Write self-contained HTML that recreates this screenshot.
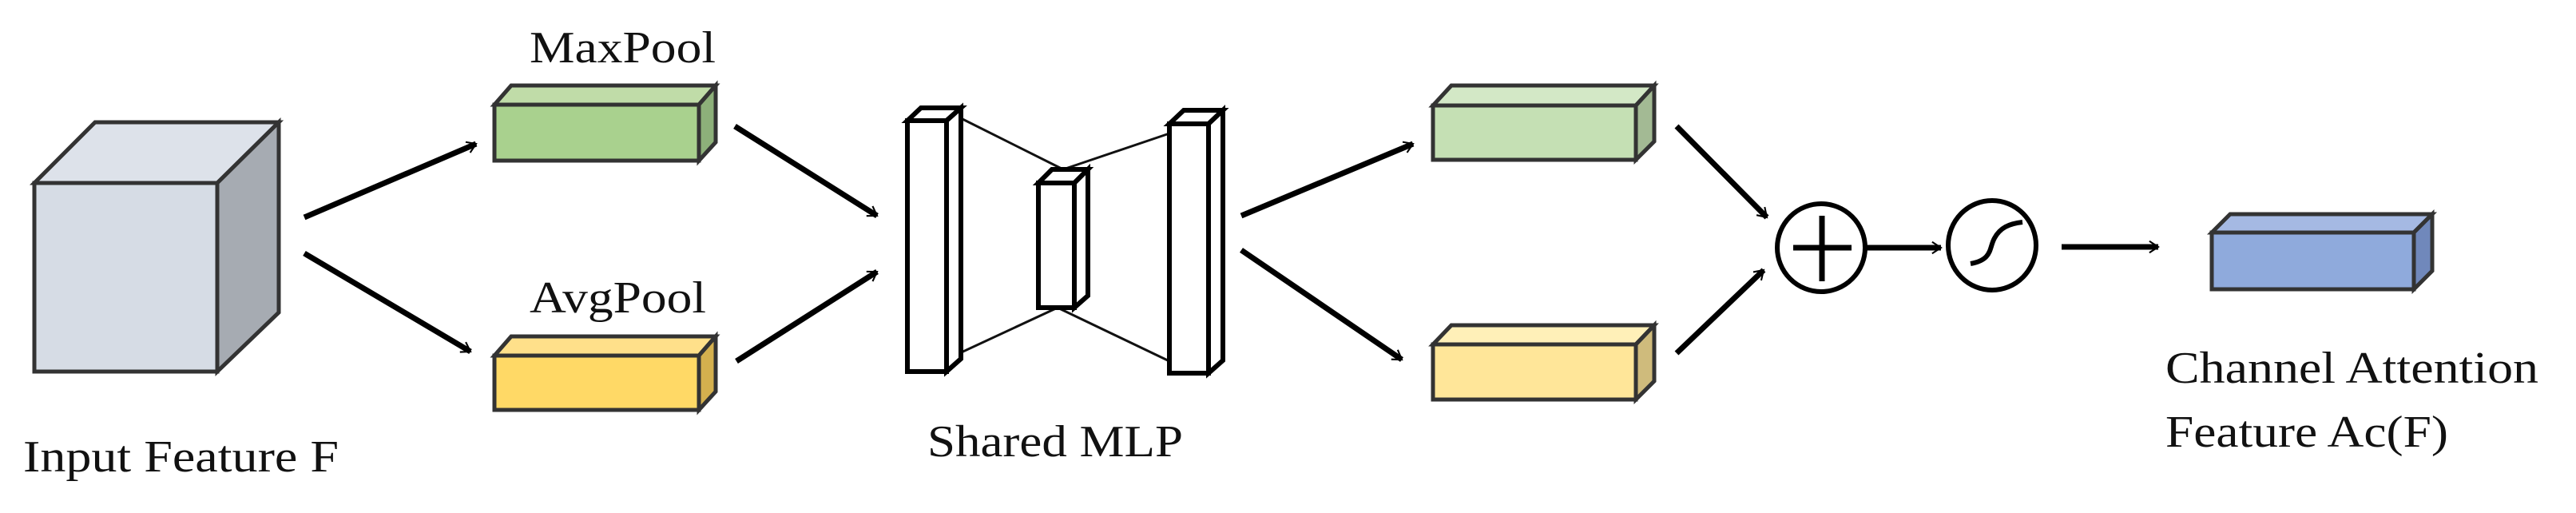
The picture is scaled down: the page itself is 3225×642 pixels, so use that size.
<!DOCTYPE html>
<html><head><meta charset="utf-8"><style>html,body{margin:0;padding:0;background:#fff}svg{display:block}</style></head>
<body>
<svg width="3225" height="642" viewBox="0 0 3225 642" xmlns="http://www.w3.org/2000/svg">
<defs>
<marker id="ah" viewBox="0 0 20 20" refX="17" refY="10" markerWidth="6" markerHeight="6" markerUnits="userSpaceOnUse" orient="auto" overflow="visible">
<path d="M-20,-14 L17,10 L-20,34" fill="none" stroke="#000" stroke-width="7"/>
</marker>
</defs>
<g stroke="#333" stroke-width="5" stroke-linejoin="miter">
<!-- input cube -->
<polygon points="43,229 119,153 349,153 272,229" fill="#dde2ea"/>
<polygon points="272,229 349,153 349,391 272,465" fill="#a6abb2"/>
<rect x="43" y="229" width="229" height="236" fill="#d6dce5"/>
<!-- MaxPool -->
<polygon points="619,131 640,107 896,107 875,131" fill="#c0dca8"/>
<polygon points="875,131 896,107 896,178 875,201" fill="#8db07a"/>
<rect x="619" y="131" width="256" height="70" fill="#a9d18e"/>
<!-- AvgPool -->
<polygon points="619,445 640,421 896,421 875,445" fill="#ffe08a"/>
<polygon points="875,445 896,421 896,490 875,513" fill="#d4b04e"/>
<rect x="619" y="445" width="256" height="68" fill="#ffd966"/>
<!-- green2 -->
<polygon points="1794,132 1817,107 2071,107 2048,132" fill="#d3e8c6"/>
<polygon points="2048,132 2071,107 2071,177 2048,200" fill="#a3ba94"/>
<rect x="1794" y="132" width="254" height="68" fill="#c5e0b4"/>
<!-- yellow2 -->
<polygon points="1794,431 1817,407 2071,407 2048,431" fill="#fff0b8"/>
<polygon points="2048,431 2071,407 2071,477 2048,500" fill="#cfbb7c"/>
<rect x="1794" y="431" width="254" height="69" fill="#ffe699"/>
<!-- blue -->
<polygon points="2769,291 2792,268 3045,268 3022,291" fill="#a5b9e3"/>
<polygon points="3022,291 3045,268 3045,339 3022,362" fill="#7088bb"/>
<rect x="2769" y="291" width="253" height="71" fill="#8faadc"/>
</g>
<!-- MLP -->
<g stroke="#111" stroke-width="3" fill="none">
<line x1="1203" y1="148" x2="1331" y2="212"/>
<line x1="1331" y1="212" x2="1464" y2="167"/>
<line x1="1197" y1="444" x2="1324" y2="385"/>
<line x1="1324" y1="385" x2="1464" y2="452"/>
</g>
<g stroke="#000" stroke-width="6" fill="#fff">
<polygon points="1136,151 1153,135 1203,135 1185,151"/>
<polygon points="1185,151 1203,135 1203,449 1185,465"/>
<rect x="1136" y="151" width="49" height="314"/>
<polygon points="1300,229 1317,212 1362,212 1345,229"/>
<polygon points="1345,229 1362,212 1362,370 1345,385"/>
<rect x="1300" y="229" width="45" height="156"/>
<polygon points="1464,155 1482,138 1531,138 1513,155"/>
<polygon points="1513,155 1531,138 1531,451 1513,467"/>
<rect x="1464" y="155" width="49" height="312"/>
</g>
<!-- arrows -->
<g stroke="#000" stroke-width="7" fill="none" marker-end="url(#ah)">
<line x1="381" y1="272" x2="596" y2="180"/>
<line x1="381" y1="317" x2="589" y2="440"/>
<line x1="920" y1="158" x2="1098" y2="270"/>
<line x1="922" y1="452" x2="1098" y2="340"/>
<line x1="1554" y1="270" x2="1769" y2="180"/>
<line x1="1554" y1="313" x2="1755" y2="450"/>
<line x1="2099" y1="158" x2="2212" y2="272"/>
<line x1="2099" y1="442" x2="2208" y2="338"/>
<line x1="2337" y1="310" x2="2430" y2="310"/>
<line x1="2581" y1="309" x2="2702" y2="309"/>
</g>
<g stroke="#000" fill="none">
<circle cx="2280" cy="310" r="55" stroke-width="6"/>
<line x1="2245" y1="310" x2="2318" y2="310" stroke-width="7"/>
<line x1="2281" y1="270" x2="2281" y2="352" stroke-width="7"/>
<ellipse cx="2494" cy="307" rx="55" ry="56" stroke-width="6"/>
<path d="M2467,330 C2495,325 2490,310 2497,298 C2504,285 2515,280 2532,278" stroke-width="6"/>
</g>
<g font-family="'Liberation Serif', serif" font-size="56" fill="#111">
<text x="663" y="78" textLength="233" lengthAdjust="spacingAndGlyphs">MaxPool</text>
<text x="663" y="391" textLength="221" lengthAdjust="spacingAndGlyphs">AvgPool</text>
<text x="29" y="590" textLength="395" lengthAdjust="spacingAndGlyphs">Input Feature F</text>
<text x="1161" y="571" textLength="320" lengthAdjust="spacingAndGlyphs">Shared MLP</text>
<text x="2711" y="479" textLength="467" lengthAdjust="spacingAndGlyphs">Channel Attention</text>
<text x="2711" y="559" textLength="354" lengthAdjust="spacingAndGlyphs">Feature Ac(F)</text>
</g>
</svg>
</body></html>
